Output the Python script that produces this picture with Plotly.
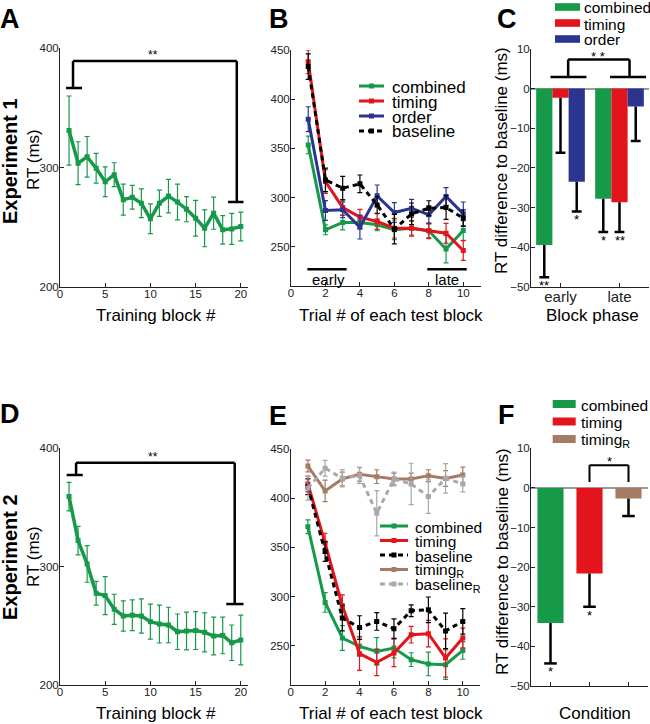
import plotly.graph_objects as go

W, H = 650, 724

# ---------------- data ----------------
train_blocks = list(range(1, 21))
exp1_train_rt = [331, 303.6, 309, 299.4, 288, 294, 273, 275, 270, 257, 270, 276, 271, 265, 257.5, 249, 261.7, 247.7, 248.5, 250.5]
exp1_train_err = [29, 18, 17, 12.5, 12.5, 10, 13, 10, 12, 12.5, 11, 14, 15, 10.5, 15, 15.5, 13.5, 12, 13, 12]
exp2_train_rt = [359.2, 322, 302.3, 277.5, 275.5, 264, 258.3, 259, 258.3, 253.5, 251.5, 250.7, 245, 245.6, 246, 244.5, 241.4, 241.9, 235.7, 238]
exp2_train_err = [12, 12, 15.5, 10, 16, 12.7, 12.8, 13, 14.4, 14.8, 16, 15, 15, 16, 16, 16.5, 16, 15.5, 15, 21]

trials = list(range(1, 11))
b_combined = [353.5, 267.1, 274.6, 274.6, 272.2, 267.1, 268.8, 266.1, 247.5, 266.5]
b_combined_err = [9, 5, 7.5, 6, 6, 10, 7, 7, 14, 10]
b_timing = [438.1, 316.2, 289.8, 280, 275.6, 268.8, 268.8, 266.1, 263.7, 246.1]
b_timing_err = [12, 12, 8, 8, 8, 10, 8, 8, 10, 10]
b_order = [379.6, 286.8, 287.5, 269.8, 301.7, 284.7, 289.1, 282.4, 301, 283.4]
b_order_err = [12.7, 10, 8, 12, 11, 10, 9, 9, 9, 12]
b_baseline = [433.1, 317.9, 309.5, 313.9, 292.5, 267.8, 283.4, 289.1, 289.8, 279]
b_baseline_err = [13, 12, 12, 9, 8.5, 15, 11, 7.6, 12, 8.5]

e_combined = [371, 294, 257.8, 249.3, 244.2, 247.6, 235.8, 231.4, 230.7, 245.2]
e_combined_err = [7, 10, 12.5, 10, 14, 10, 7, 12, 15, 9]
e_timing = [414.5, 354.3, 290.6, 241.9, 233, 242.6, 261.2, 262.2, 237.5, 257.8]
e_timing_err = [8, 10, 11, 17, 13.5, 14, 8.5, 13.5, 19.5, 10]
e_baseline = [411.7, 345.7, 278.1, 268.4, 274.7, 267.3, 285.5, 286.5, 265, 274.7]
e_baseline_err = [8, 10, 13, 12, 9, 10, 6, 13, 18, 13]
e_timingR = [432.7, 407.4, 419.5, 424.4, 421.9, 419.5, 419.5, 422.9, 420, 423.6]
e_timingR_err = [6, 11, 7, 7, 7, 6, 6, 6, 8, 8]
e_baselineR = [410, 430.4, 420.2, 423, 384.7, 419.5, 414.5, 401.6, 420.2, 414.5]
e_baselineR_err = [12, 8, 8.8, 8, 23, 7, 21, 17, 15, 8]

c_phases = ["early", "late"]
c_combined = [-39.5, -27.8]
c_combined_err = [8.1, 8.4]
c_combined_sig = ["**", "*"]
c_timing = [-2.3, -28.7]
c_timing_err = [13.9, 7.5]
c_timing_sig = ["", "**"]
c_order = [-23.5, -4.5]
c_order_err = [7.5, 8.7]
c_order_sig = ["*", ""]

f_conditions = ["combined", "timing", "timing<sub>R</sub>"]
f_values = [-34.1, -21.6, -2.7]
f_err = [10.2, 8.4, 4.4]
f_sig = ["*", "*", ""]

# ---------------- style ----------------
GREEN = "#17994a"
RED = "#e3141c"
BLUE = "#2b3590"
BROWN = "#a57b63"
GRAY = "#a8a8a8"
BLACK = "#000000"
FONT = "Liberation Sans, Arial, Helvetica, sans-serif"
DOT = "5px,4px"


def fx(px):
    return px / W


def fy(py):
    return 1 - py / H


fig = go.Figure()


def line_trace(x, y, err, color, xa, ya, dash=None, width=3, msize=5, ethick=1.2):
    fig.add_trace(go.Scatter(
        x=x, y=y, mode="lines+markers", xaxis=xa, yaxis=ya,
        line=dict(color=color, width=width, dash=dash),
        marker=dict(symbol="square", size=msize, color=color),
        error_y=dict(type="data", array=err, color=color, thickness=ethick, width=2.5, visible=True),
        showlegend=False, hoverinfo="skip"))


# Panel A / D
line_trace(train_blocks, exp1_train_rt, exp1_train_err, GREEN, "x", "y", width=3.5)
line_trace(train_blocks, exp2_train_rt, exp2_train_err, GREEN, "x4", "y4", width=3.5)

# Panel B
line_trace(trials, b_combined, b_combined_err, GREEN, "x2", "y2")
line_trace(trials, b_timing, b_timing_err, RED, "x2", "y2")
line_trace(trials, b_order, b_order_err, BLUE, "x2", "y2")
line_trace(trials, b_baseline, b_baseline_err, BLACK, "x2", "y2", dash=DOT)

# Panel E
line_trace(trials, e_combined, e_combined_err, GREEN, "x5", "y5")
line_trace(trials, e_timing, e_timing_err, RED, "x5", "y5")
line_trace(trials, e_baseline, e_baseline_err, BLACK, "x5", "y5", dash=DOT)
line_trace(trials, e_timingR, e_timingR_err, BROWN, "x5", "y5")
line_trace(trials, e_baselineR, e_baselineR_err, GRAY, "x5", "y5", dash=DOT)

annotations = []
shapes = []


def downward_errors(xs, vals, errs, sigs, xa, ya, capsize=8, sigsize=13):
    lx, ly = [], []
    for x, v, e in zip(xs, vals, errs):
        lx += [x, x, None]
        ly += [v, v - e, None]
    fig.add_trace(go.Scatter(x=lx, y=ly, mode="lines", xaxis=xa, yaxis=ya,
                             line=dict(color=BLACK, width=2.5), showlegend=False, hoverinfo="skip"))
    fig.add_trace(go.Scatter(x=xs, y=[v - e for v, e in zip(vals, errs)], mode="markers",
                             xaxis=xa, yaxis=ya,
                             marker=dict(symbol="line-ew", size=capsize, line=dict(width=2.5, color=BLACK)),
                             showlegend=False, hoverinfo="skip"))
    for x, v, e, s in zip(xs, vals, errs, sigs):
        if s:
            annotations.append(dict(x=x, y=v - e, xref=xa, yref=ya, text=s, showarrow=False,
                                    xanchor="center", yanchor="top", yshift=1,
                                    font=dict(family=FONT, size=sigsize, color=BLACK)))


# Panel C bars
c_pos = [1, 2]
BW = 0.275
for vals, errs, sigs, color, k in [
    (c_combined, c_combined_err, c_combined_sig, GREEN, -1),
    (c_timing, c_timing_err, c_timing_sig, RED, 0),
    (c_order, c_order_err, c_order_sig, BLUE, 1),
]:
    fig.add_trace(go.Bar(x=c_pos, y=vals, width=BW, offset=k * BW - BW / 2, xaxis="x3", yaxis="y3",
                         marker=dict(color=color, line=dict(width=0)), showlegend=False, hoverinfo="skip"))
    downward_errors([p + k * BW for p in c_pos], vals, errs, sigs, "x3", "y3", capsize=7)

# Panel F bars
f_pos = [1, 2, 3]
fig.add_trace(go.Bar(x=f_pos, y=f_values, width=0.67, xaxis="x6", yaxis="y6",
                     marker=dict(color=[GREEN, RED, BROWN], line=dict(width=0)),
                     showlegend=False, hoverinfo="skip"))
downward_errors(f_pos, f_values, f_err, f_sig, "x6", "y6", capsize=9)

# ---------------- axes ----------------
base_axis = dict(showline=True, linecolor="#222", linewidth=1, ticks="inside", ticklen=4,
                 tickwidth=1, tickcolor="#222", showgrid=False, zeroline=False,
                 tickfont=dict(family=FONT, size=11.5, color="#222"), fixedrange=True)


def ax(**kw):
    d = dict(base_axis)
    d.update(kw)
    return d


def xax(**kw):
    return ax(ticklabelstandoff=-4, **kw)


def yax(**kw):
    return ax(ticklabelstandoff=-2, **kw)


fig.update_layout(
    width=W, height=H, margin=dict(l=0, r=0, t=0, b=0, pad=0, autoexpand=False),
    paper_bgcolor="white", plot_bgcolor="white", showlegend=False,
    font=dict(family=FONT, color=BLACK),
    barmode="overlay",
    xaxis=xax(domain=[fx(60), fx(248)], range=[0, 20.8], tickvals=[0, 5, 10, 15, 20], anchor="y"),
    yaxis=yax(domain=[fy(286.7), fy(48.3)], range=[200, 400], tickvals=[200, 300, 400], anchor="x"),
    xaxis2=xax(domain=[fx(291), fx(480.5)], range=[0, 11], tickvals=[0, 2, 4, 6, 8, 10], anchor="y2"),
    yaxis2=yax(domain=[fy(286), fy(50)], range=[210, 450], tickvals=[250, 300, 350, 400, 450], anchor="x2"),
    xaxis3=xax(domain=[fx(531), fx(649)], range=[0.5, 2.5], tickvals=c_pos, ticktext=c_phases,
               tickfont=dict(family=FONT, size=15, color="#222"), anchor="y3"),
    yaxis3=yax(domain=[fy(286.7), fy(49)], range=[-50, 10], dtick=10, zeroline=True,
               zerolinecolor="#9a9a9a", zerolinewidth=1.5, anchor="x3"),
    xaxis4=xax(domain=[fx(60), fx(248)], range=[0, 20.8], tickvals=[0, 5, 10, 15, 20], anchor="y4"),
    yaxis4=yax(domain=[fy(685), fy(448.3)], range=[200, 400], tickvals=[200, 300, 400], anchor="x4"),
    xaxis5=xax(domain=[fx(290.7), fx(480)], range=[0, 11], tickvals=[0, 2, 4, 6, 8, 10], anchor="y5"),
    yaxis5=yax(domain=[fy(685), fy(449)], range=[210, 450], tickvals=[250, 300, 350, 400, 450], anchor="x5"),
    xaxis6=xax(domain=[fx(531), fx(648)], range=[0.5, 3.5], tickvals=f_pos, showticklabels=False, anchor="y6"),
    yaxis6=yax(domain=[fy(686), fy(448.3)], range=[-50, 10], dtick=10, zeroline=True,
               zerolinecolor="#9a9a9a", zerolinewidth=1.5, anchor="x6"),
)


# ---------------- text ----------------
def ptext(text, x, y, size, angle=0, xanchor="center", yanchor="middle", bold=False):
    if bold:
        text = "<b>" + text + "</b>"
    annotations.append(dict(text=text, x=fx(x), y=fy(y), xref="paper", yref="paper", showarrow=False,
                            xanchor=xanchor, yanchor=yanchor, textangle=angle,
                            font=dict(family=FONT, size=size, color=BLACK)))


# panel letters
for letter, x, y in [("A", 10, 19), ("B", 279, 19), ("C", 507, 19), ("D", 10, 414), ("E", 278, 416), ("F", 506, 415)]:
    ptext(letter, x, y, 27, bold=True)

# axis titles
ptext("Experiment 1", 10, 161, 20, angle=-90, bold=True)
ptext("RT (ms)", 33, 160, 17, angle=-90)
ptext("Experiment 2", 10, 557, 20, angle=-90, bold=True)
ptext("RT (ms)", 33, 557, 17, angle=-90)
ptext("Training block #", 156, 315, 17)
ptext("Training block #", 156, 713, 17)
ptext("Trial # of each test block", 391, 315, 17)
ptext("Trial # of each test block", 391, 713, 17)
ptext("Block phase", 592, 315, 17)
ptext("Condition", 595, 713, 17)
ptext("RT difference to baseline (ms)", 502, 161, 17, angle=-90)
ptext("RT difference to baseline (ms)", 502, 562, 17, angle=-90)


# ---------------- significance brackets ----------------
def seg(xref, yref, x0, y0, x1, y1, width=2.5, color=BLACK, dash=None):
    shapes.append(dict(type="line", xref=xref, yref=yref, x0=x0, y0=y0, x1=x1, y1=y1,
                       line=dict(color=color, width=width, dash=dash)))


def dtext(text, xref, yref, x, y, size=12):
    annotations.append(dict(text=text, x=x, y=y, xref=xref, yref=yref, showarrow=False,
                            xanchor="center", yanchor="middle",
                            font=dict(family=FONT, size=size, color=BLACK)))


# A
seg("x", "y", 1.44, 389.4, 19.56, 389.4)
seg("x", "y", 1.44, 389.4, 1.44, 366.7)
seg("x", "y", 0.67, 366.7, 2.44, 366.7)
seg("x", "y", 19.56, 389.4, 19.56, 271)
seg("x", "y", 18.6, 271, 20.3, 271)
dtext("**", "x", "y", 10.3, 394)
# D
seg("x4", "y4", 1.78, 387.8, 19.33, 387.8)
seg("x4", "y4", 1.78, 387.8, 1.78, 377.4)
seg("x4", "y4", 0.74, 377.4, 2.52, 377.4)
seg("x4", "y4", 19.33, 387.8, 19.33, 268.4)
seg("x4", "y4", 18.4, 268.4, 20.3, 268.4)
dtext("**", "x4", "y4", 10.3, 393)
# B early / late
seg("x2", "y2", 0.95, 227, 3.23, 227)
seg("x2", "y2", 7.91, 227, 10.2, 227)
dtext("early", "x2", "y2", 2.15, 217, size=15)
dtext("late", "x2", "y2", 9.05, 217, size=15)
# C
seg("x3", "y3", 1.13, 7.35, 2.17, 7.35)
seg("x3", "y3", 1.13, 7.35, 1.13, 2.94)
seg("x3", "y3", 2.17, 7.35, 2.17, 2.94)
seg("x3", "y3", 0.83, 2.94, 1.44, 2.94)
seg("x3", "y3", 1.84, 2.94, 2.45, 2.94)
dtext("* *", "x3", "y3", 1.64, 8.0, size=13)
# F
seg("x6", "y6", 2, 5.7, 3, 5.7, width=2)
seg("x6", "y6", 2, 5.7, 2, 1.5, width=2)
seg("x6", "y6", 3, 5.7, 3, 1.5, width=2)
dtext("*", "x6", "y6", 2.5, 6.6, size=13)


# ---------------- legends ----------------
def leg_line(x0, x1, y, color, dash=None, width=3):
    shapes.append(dict(type="line", xref="paper", yref="paper", x0=fx(x0), x1=fx(x1), y0=fy(y), y1=fy(y),
                       line=dict(color=color, width=width, dash=dash)))
    xm = (x0 + x1) / 2
    shapes.append(dict(type="rect", xref="paper", yref="paper", x0=fx(xm - 2.5), x1=fx(xm + 2.5),
                       y0=fy(y - 2.5), y1=fy(y + 2.5), fillcolor=color, line=dict(width=0)))


def leg_rect(x0, x1, y0, y1, color):
    shapes.append(dict(type="rect", xref="paper", yref="paper", x0=fx(x0), x1=fx(x1), y0=fy(y1), y1=fy(y0),
                       fillcolor=color, line=dict(width=0)))


b_leg = [("combined", GREEN, None), ("timing", RED, None), ("order", BLUE, None), ("baseline", BLACK, DOT)]
for i, (name, col, dsh) in enumerate(b_leg):
    y = 86 + 15 * i
    leg_line(359, 384, y, col, dsh)
    ptext(name, 390, y + 1, 17, xanchor="left")

e_leg = [("combined", GREEN, None), ("timing", RED, None), ("baseline", BLACK, DOT),
         ("timing<sub>R</sub>", BROWN, None), ("baseline<sub>R</sub>", GRAY, DOT)]
for i, (name, col, dsh) in enumerate(e_leg):
    y = 526 + 14.5 * i
    leg_line(380, 408, y, col, dsh)
    ptext(name, 412.5, y + 1, 15.5, xanchor="left")

c_leg = [("combined", GREEN), ("timing", RED), ("order", BLUE)]
for i, (name, col) in enumerate(c_leg):
    y = 7 + 16 * i
    leg_rect(555, 580, y - 3.8, y + 3.8, col)
    ptext(name, 582, y + 1, 15.5, xanchor="left")

f_leg_colors = [GREEN, RED, BROWN]
for i, (name, col) in enumerate(zip(f_conditions, f_leg_colors)):
    y = 404 + 17.5 * i
    leg_rect(552.7, 575.7, y - 4, y + 4, col)
    ptext(name, 579, y + 1, 15.5, xanchor="left")

fig.update_layout(annotations=annotations, shapes=shapes)

fig.write_html("out.html", config={"displayModeBar": False},
               post_script="document.body.style.margin='0px';document.body.style.overflow='hidden';")
